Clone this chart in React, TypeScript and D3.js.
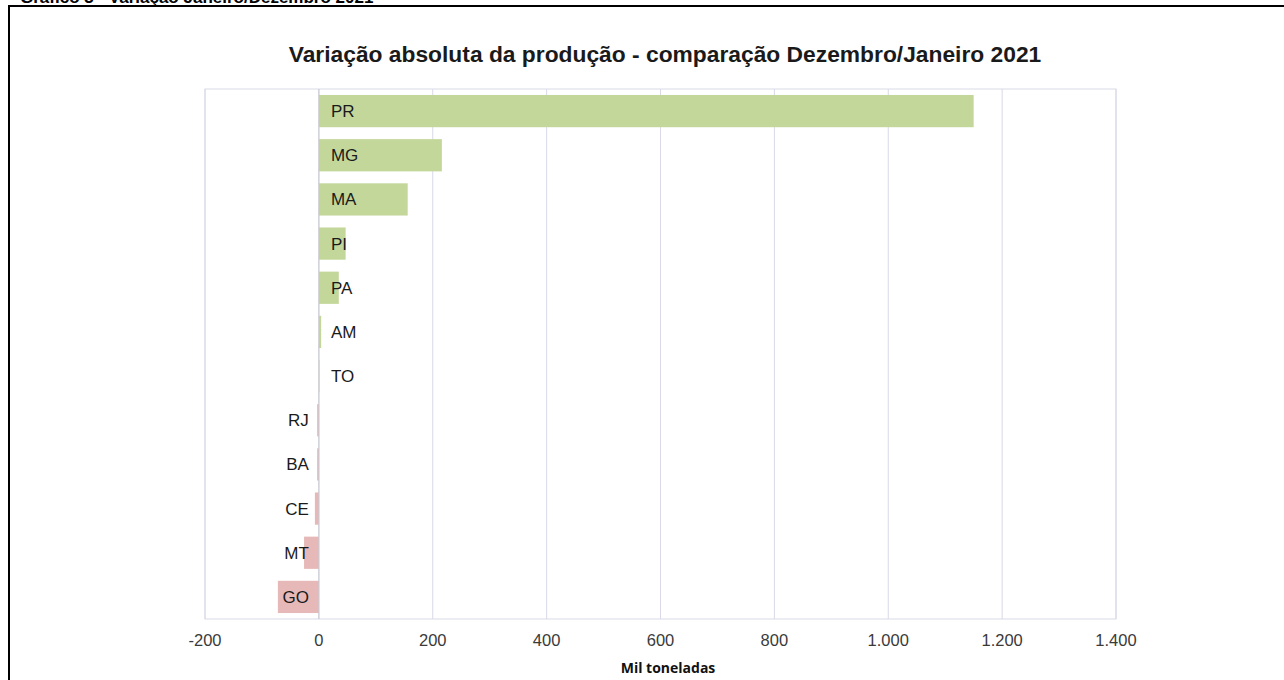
import React from "react";
import * as d3 from "d3";

const categories = ["PR", "MG", "MA", "PI", "PA", "AM", "TO", "RJ", "BA", "CE", "MT", "GO"];
const values = [1150, 216, 156, 47, 35, 4, 1, -3, -3, -7, -26, -72];
const tickValues = [-200, 0, 200, 400, 600, 800, 1000, 1200, 1400];

const title = "Variação absoluta da produção - comparação Dezembro/Janeiro 2021";
const axisTitle = "Mil toneladas";
const cutHeader = "Gráfico 3 - Variação Janeiro/Dezembro 2021";

const W = 1284;
const H = 680;
const plot = { left: 205, right: 1116, top: 89, bottom: 619 };

const fmt = (v: number) => d3.format(",")(v).replace(/,/g, ".").replace("\u2212", "-");

export default function App() {
  const x = d3.scaleLinear().domain([-200, 1400]).range([plot.left, plot.right]);
  const y = d3.scaleBand<string>().domain(categories).range([plot.top, plot.bottom]).paddingInner(0.27).paddingOuter(0.135);
  const x0 = x(0);
  const font = "Arial, 'Liberation Sans', sans-serif";
  return (
    <div style={{ position: "absolute", left: 0, top: 0 }}>
      <svg width={W} height={H} style={{ display: "block", background: "#fff" }}>
        <text x={20} y={3} fontFamily={font} fontWeight="bold" fontSize={17} fill="#000">{cutHeader}</text>
        <line x1={8} y1={6} x2={W} y2={6} stroke="#000" strokeWidth={2} />
        <line x1={9} y1={5} x2={9} y2={H} stroke="#000" strokeWidth={2} />
        <text x={665} y={62} textAnchor="middle" fontFamily={font} fontWeight="bold" fontSize={22.8} fill="#1a1a1a">{title}</text>
        {tickValues.map((t) => (
          <line key={"g" + t} x1={x(t)} x2={x(t)} y1={plot.top} y2={plot.bottom} stroke="#d9d9e8" strokeWidth={1} />
        ))}
        <rect x={plot.left} y={plot.top} width={plot.right - plot.left} height={plot.bottom - plot.top} fill="none" stroke="#d9d9e8" strokeWidth={1} />
        {categories.map((c, i) => {
          const v = values[i];
          const bx = Math.min(x(v), x0);
          const bw = Math.abs(x(v) - x0);
          return (
            <rect key={"b" + c} x={bx} y={y(c)} width={bw} height={y.bandwidth()} fill={v >= 0 ? "#c4d79b" : "#e6b9b8"} />
          );
        })}
        <line x1={x0} x2={x0} y1={plot.top} y2={plot.bottom} stroke="#c8c8d0" strokeWidth={1} />
        {categories.map((c, i) => {
          const v = values[i];
          const cy = (y(c) as number) + y.bandwidth() / 2 + 6;
          return (
            <text key={"l" + c} x={v >= 0 ? x0 + 12 : x0 - 10} y={cy} textAnchor={v >= 0 ? "start" : "end"} fontFamily={font} fontSize={17} fill="#1a1a1a">{c}</text>
          );
        })}
        {tickValues.map((t) => (
          <text key={"t" + t} x={x(t)} y={646} textAnchor="middle" fontFamily={font} fontSize={16.5} fill="#3a3a3a">{fmt(t)}</text>
        ))}
        <text x={668} y={673} textAnchor="middle" fontFamily="'Open Sans', sans-serif" fontWeight="bold" fontSize={14} fill="#111">{axisTitle}</text>
      </svg>
    </div>
  );
}
